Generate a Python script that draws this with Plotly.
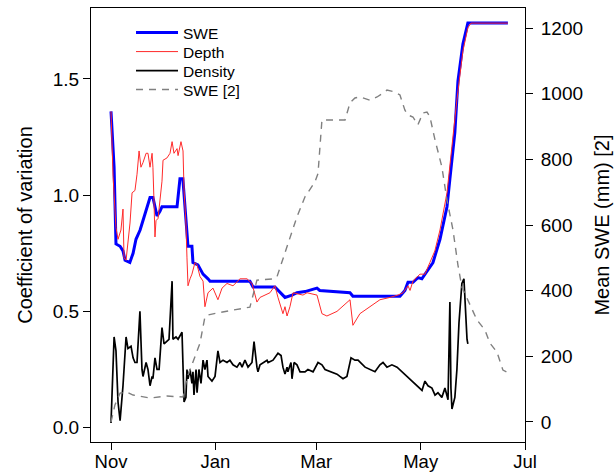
import pandas as pd
import plotly.graph_objects as go

BASE = "2000-11-01"

# ---- SWE coefficient of variation (left axis) ----
swe_days = [0, 1.8, 2.9, 5.3, 7, 8.2, 11, 12.9, 14.6, 17, 19.9, 22.8, 24.5, 25.7, 26.9, 28.6,
            29.8, 38.6, 40.3, 42, 43.2, 45, 47.3, 47.9, 50.8, 53.8, 56.7, 57.9, 81.2, 83, 95.8,
            98.8, 101.7, 105.8, 108.7, 113.4, 120.4, 122, 139.7, 141.4, 168.9, 171.8, 173.6,
            176.5, 179.4, 181.7, 183.5, 188.2, 192.3, 196.4, 198.1, 201, 202.8, 205.7, 208.6, 232]
swe_cv = [1.36, 1.12, 0.79, 0.78, 0.76, 0.72, 0.71, 0.75, 0.81, 0.85, 0.92, 0.99, 0.99, 0.95,
          0.91, 0.93, 0.95, 0.95, 1.07, 1.07, 0.95, 0.78, 0.78, 0.71, 0.70, 0.66, 0.64, 0.63,
          0.63, 0.605, 0.605, 0.58, 0.56, 0.57, 0.58, 0.585, 0.60, 0.59, 0.58, 0.565, 0.565,
          0.59, 0.625, 0.625, 0.645, 0.64, 0.66, 0.71, 0.81, 0.95, 1.07, 1.27, 1.49, 1.65,
          1.74, 1.74]

# ---- Depth coefficient of variation (left axis) ----
depth_days = [0, 1.2, 2.9, 4.1, 5.8, 7, 7.6, 8.8, 11.1, 12.3, 14, 15.2, 16.4, 17.5, 18.7, 20.5,
              21.6, 22.8, 24, 24.5, 25.1, 25.7, 26.3, 27.5, 29.8, 30.4, 32.7, 34.5, 35.7, 36.8,
              38.6, 39.2, 40.9, 42.1, 42.7, 43.8, 44.4, 45, 46.2, 47.3, 49.1, 50.3, 52, 53.8,
              54.9, 56.7, 59.6, 62.5, 64.9, 67.8, 71.3, 75.4, 79.5, 82.4, 85.3, 87.1, 92.9,
              95.8, 97.6, 100.5, 101.7, 102.9, 104.6, 106.4, 112.2, 114.6, 120.4, 123.3, 126.2,
              132.1, 139.7, 141.4, 145.5, 151.4, 157.2, 163.1, 167.7, 170.7, 173.6, 174.8,
              176.5, 180.6, 183.5, 186.4, 189.3, 192.3, 196.4, 199.3, 202.2, 205.7, 208.6,
              210.4, 232]
depth_cv = [1.36, 1.08, 0.86, 0.81, 0.85, 0.94, 0.73, 0.72, 0.88, 1.01, 1.02, 1.09, 1.19, 1.12,
            1.14, 1.18, 1.18, 1.12, 1.18, 1.12, 0.98, 0.82, 0.89, 0.90, 1.06, 1.15, 1.16, 1.18,
            1.23, 1.18, 1.20, 1.17, 1.23, 1.19, 1.02, 0.88, 0.73, 0.61, 0.64, 0.66, 0.71, 0.70,
            0.65, 0.63, 0.52, 0.58, 0.60, 0.55, 0.60, 0.62, 0.61, 0.64, 0.64, 0.62, 0.54, 0.56,
            0.58, 0.61, 0.56, 0.49, 0.52, 0.48, 0.52, 0.58, 0.57, 0.58, 0.57, 0.49, 0.48, 0.50,
            0.55, 0.44, 0.49, 0.52, 0.55, 0.56, 0.57, 0.58, 0.61, 0.59, 0.63, 0.66, 0.66, 0.71,
            0.76, 0.85, 1.01, 1.21, 1.41, 1.62, 1.72, 1.74, 1.74]

# ---- Density coefficient of variation (left axis) ----
dens_days = [0, 1.2, 1.8, 2.9, 4.1, 5.3, 7, 8.8, 9.9, 11.7, 12.9, 14, 15.2, 16.9, 18.1, 18.7,
             20.5, 21.6, 22.8, 24, 24.5, 25.7, 26.9, 28.1, 29.8, 31, 32.7, 33.9, 35.7, 36.2,
             38, 39.2, 41.5, 42.1, 42.7, 43.8, 44.4, 45, 46.2, 47.3, 47.9, 48.5, 49.7, 50.3,
             51.4, 52.6, 53.8, 54.9, 56.1, 56.7, 59, 60.8, 62.5, 63.7, 65.5, 67.8, 69.5, 71.3,
             73.6, 75.4, 76.6, 78.3, 80.1, 82.4, 83.6, 85.3, 85.9, 87.1, 88.8, 91.2, 91.8,
             94.7, 97.6, 99.4, 100.5, 101.7, 102.9, 103.4, 105.2, 105.8, 107, 108.7, 110.5,
             113.4, 115.1, 118.1, 121, 123.3, 125.1, 129.2, 132.1, 133.8, 135.6, 137.9, 138.5,
             140.3, 142.6, 144.4, 148.5, 151.4, 154.3, 157.2, 159, 161.3, 164.2, 167.2, 170.1,
             173.6, 176.5, 179.4, 181.8, 183.5, 185.3, 187.6, 189.4, 191.1, 193.4, 195.2, 197,
             198.1, 198.7, 199.3, 201, 202.2, 203.4, 205.1, 206.3, 208.1, 208.6]
dens_cv = [0.02, 0.33, 0.39, 0.33, 0.11, 0.03, 0.18, 0.39, 0.34, 0.35, 0.30, 0.28, 0.28, 0.50,
           0.25, 0.22, 0.28, 0.25, 0.18, 0.22, 0.21, 0.30, 0.25, 0.25, 0.43, 0.36, 0.37, 0.38,
           0.63, 0.38, 0.39, 0.38, 0.41, 0.30, 0.11, 0.13, 0.25, 0.21, 0.25, 0.19, 0.24, 0.14,
           0.25, 0.15, 0.25, 0.19, 0.29, 0.25, 0.29, 0.22, 0.20, 0.22, 0.33, 0.28, 0.29, 0.28,
           0.29, 0.27, 0.26, 0.28, 0.26, 0.29, 0.26, 0.28, 0.37, 0.26, 0.24, 0.27, 0.28, 0.29,
           0.28, 0.29, 0.32, 0.31, 0.26, 0.23, 0.26, 0.24, 0.28, 0.21, 0.28, 0.27, 0.24, 0.24,
           0.25, 0.24, 0.28, 0.27, 0.25, 0.24, 0.23, 0.22, 0.21, 0.22, 0.24, 0.30, 0.29, 0.29,
           0.26, 0.25, 0.24, 0.27, 0.28, 0.26, 0.27, 0.26, 0.24, 0.22, 0.20, 0.18, 0.16, 0.20,
           0.18, 0.17, 0.14, 0.15, 0.13, 0.17, 0.12, 0.54, 0.17, 0.08, 0.13, 0.25, 0.45, 0.62,
           0.64, 0.38, 0.36]

# ---- Mean SWE in mm (right axis) ----
mean_days = [0, 2.3, 5.3, 9.4, 12.9, 18.7, 22.8, 32.7, 42.1, 44.4, 47.9, 52, 54.9, 56.7, 62,
             81.2, 85.3, 94.7, 97, 102.9, 108.7, 113.4, 119.2, 121, 123.3, 136.8, 139.7, 142.6,
             145.5, 151.4, 155.5, 159, 161.3, 166, 168.9, 171.8, 173.6, 176.5, 179.4, 182.3,
             184.7, 186.4, 189.4, 193.4, 196.4, 199.9, 202.8, 205.1, 208.6, 213.9, 218.6, 221.5,
             225.6, 229.1, 232]
mean_swe = [0, 52, 88, 91, 82, 76, 73, 79, 76, 134, 180, 240, 320, 326, 332, 350, 432, 436, 442,
            533, 625, 686, 731, 757, 920, 920, 972, 987, 990, 980, 990, 1002, 1011, 1005, 996,
            950, 935, 929, 905, 941, 944, 930, 859, 777, 676, 585, 478, 411, 372, 311, 280, 240,
            213, 158, 150]

tick_days = [0, 61, 120, 181, 242]
tick_labels = ["Nov", "Jan", "Mar", "May", "Jul"]


def to_dates(days):
    return pd.Timestamp(BASE) + pd.to_timedelta(days, unit="D")


FONT = "Liberation Sans, Arial, Helvetica, sans-serif"

fig = go.Figure()
fig.add_trace(go.Scatter(x=to_dates(swe_days), y=swe_cv, mode="lines", name="SWE",
                         line=dict(color="#0000FF", width=3), legend="legend"))
fig.add_trace(go.Scatter(x=to_dates(depth_days), y=depth_cv, mode="lines", name="Depth",
                         line=dict(color="#FF2A2A", width=1), legend="legend2"))
fig.add_trace(go.Scatter(x=to_dates(dens_days), y=dens_cv, mode="lines", name="Density",
                         line=dict(color="#000000", width=1.7), legend="legend3"))
fig.add_trace(go.Scatter(x=to_dates(mean_days), y=mean_swe, mode="lines", name="SWE [2]",
                         yaxis="y2", line=dict(color="#808080", width=1.4, dash="7px,6px"),
                         legend="legend4"))

leg_common = dict(x=0.0922, xanchor="left", yanchor="middle", bgcolor="rgba(0,0,0,0)",
                  borderwidth=0, font=dict(size=15.5, family=FONT), itemwidth=42)
leg_rows = [0.9424, 0.8986, 0.8548, 0.8111]

fig.update_layout(
    width=615, height=475,
    margin=dict(l=91, r=90, t=8, b=33, pad=0, autoexpand=False),
    paper_bgcolor="white", plot_bgcolor="white",
    font=dict(family=FONT, color="black", size=19),
    showlegend=True,
    legend=dict(y=leg_rows[0], **leg_common),
    legend2=dict(y=leg_rows[1], **leg_common),
    legend3=dict(y=leg_rows[2], **leg_common),
    legend4=dict(y=leg_rows[3], **leg_common),
    xaxis=dict(
        type="date", automargin=False,
        range=[to_dates([-11.7])[0], to_dates([242])[0]],
        tickmode="array", tickvals=to_dates(tick_days), ticktext=tick_labels,
        ticks="outside", ticklen=7, tickwidth=1, tickcolor="black",
        showline=True, linecolor="black", linewidth=1, mirror=True,
        showgrid=False, zeroline=False,
        tickfont=dict(size=18.5), ticklabelstandoff=-4,
    ),
    yaxis=dict(
        automargin=False,
        range=[-0.062, 1.805],
        tickmode="array", tickvals=[0, 0.5, 1.0, 1.5], ticktext=["0.0", "0.5", "1.0", "1.5"],
        ticks="outside", ticklen=7, tickwidth=1, tickcolor="black",
        showline=True, linecolor="black", linewidth=1, mirror=True,
        showgrid=False, zeroline=False,
        tickfont=dict(size=19),
        title=dict(text="Coefficient of variation", font=dict(size=20), standoff=14),
    ),
    yaxis2=dict(
        overlaying="y", side="right", automargin=False,
        range=[-61, 1261],
        tickmode="array", tickvals=[0, 200, 400, 600, 800, 1000, 1200],
        ticks="outside", ticklen=7, tickwidth=1, tickcolor="black",
        showline=False, showgrid=False, zeroline=False,
        tickfont=dict(size=19), ticklabelstandoff=4,
        title=dict(text="Mean SWE (mm) [2]", font=dict(size=20), standoff=12),
    ),
)

fig.write_html("out.html")
